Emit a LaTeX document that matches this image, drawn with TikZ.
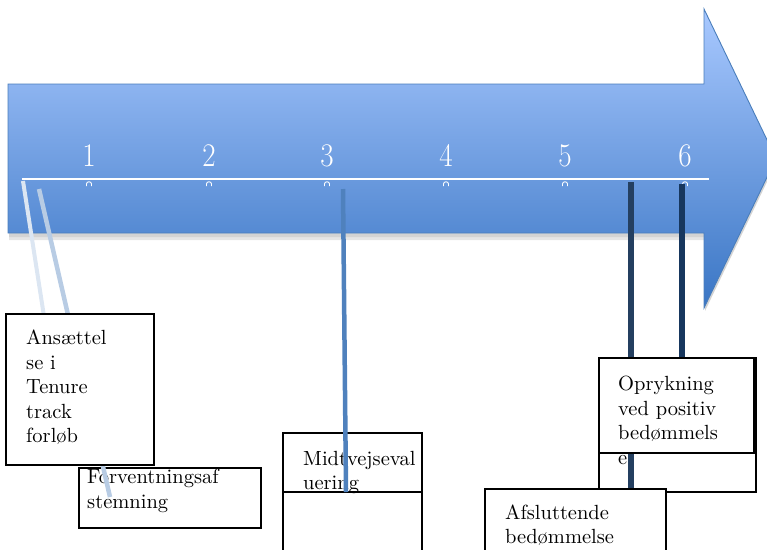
\documentclass[tikz,border=0pt]{standalone}
\usetikzlibrary{calc}
\DeclareFontFamily{TU}{lmrten}{}
\DeclareFontShape{TU}{lmrten}{m}{n}{<-> "[lmroman10-regular]:+tlig;"}{}
\definecolor{arrowtop}{HTML}{A9C9FF}
\definecolor{arrowbot}{HTML}{3975C4}
\definecolor{arrowline}{HTML}{4A7EBB}
\definecolor{conA}{HTML}{DCE6F2}
\definecolor{conB}{HTML}{B8CCE4}
\definecolor{conC}{HTML}{4F81BD}
\definecolor{conD}{HTML}{243F60}
\definecolor{conE}{HTML}{17375E}
\begin{document}
\begin{tikzpicture}[x=1pt,y=-1pt,
  boxstyle/.style={draw=black, line width=1.6pt, fill=white, inner sep=0pt, anchor=north west},
  txt/.style={align=left, anchor=north west, inner sep=0pt, font=\fontfamily{lmrten}\fontsize{20.5}{24.5}\selectfont},
  numstyle/.style={text=white, anchor=base, inner sep=0pt, font=\fontsize{33}{33}\selectfont},
  markstyle/.style={draw=white, line width=0.9pt},
  conn/.style={line width=#1}]
\useasboundingbox (0,0) rectangle (767,549);
\clip (0,0) rectangle (767,549);
% arrow shadow
\fill[black, opacity=0.10] (9,88) -- (705,88) -- (705,12) -- (777,161) -- (705,311) -- (705,240) -- (9,240) -- cycle;
\fill[black, opacity=0.08] (9,88) -- (705,88) -- (705,12) -- (777,161) -- (705,311) -- (705,237) -- (9,237) -- cycle;
% arrow
\shade[top color=arrowtop, bottom color=arrowbot] (8,84) -- (704,84) -- (704,9) -- (776,158.5) -- (704,308) -- (704,233) -- (8,233) -- cycle;
\draw[arrowline, line width=0.9pt] (8,84) -- (704,84) -- (704,9) -- (776,158.5) -- (704,308) -- (704,233) -- (8,233) -- cycle;
% timeline
\coordinate (tl0) at (22,179);
\coordinate (tl1) at (709,179);
\draw[white, line width=1.4pt] (tl0) -- (tl1);
\foreach \i/\x in {1/89,2/209,3/327,4/446,5/565,6/685}{
  \node[numstyle] (n\i) at (\x,166) {\scalebox{0.88}[1]{\i}};
  \draw[markstyle] (\x-2.5,186) -- (\x-2.5,184) .. controls (\x-2.5,181) and (\x+2.5,181) .. (\x+2.5,184) -- (\x+2.5,186);
}
% lower boxes (behind connectors)
\node[boxstyle, minimum width=182, minimum height=60] (forv) at (78,467) {};
\node[txt] (forvt) at (87,469) {Forventningsaf\\stemning};
\node[boxstyle, minimum width=139, minimum height=59] (midtA) at (282,432) {};
\node[boxstyle, minimum width=139, minimum height=70] (midtB) at (282,491) {};
\node[txt] (midtt) at (303,451) {Midtvejseval\\uering};
\node[boxstyle, minimum width=157, minimum height=134] (oprB) at (598,357) {};
% connectors
\coordinate (c1s) at (23,181);  \coordinate (c1e) at (57,400);
\coordinate (c2s) at (39,189);  \coordinate (c2e) at (110,497);
\coordinate (c3s) at (343,189); \coordinate (c3e) at (346,492);
\coordinate (c4s) at (631,182); \coordinate (c4e) at (631,490);
\coordinate (c5s) at (682,184); \coordinate (c5e) at (682,400);
\draw[conA, conn=4pt] (c1s) -- (c1e);
\draw[conB, conn=4.5pt] (c2s) -- (c2e);
\draw[conC, conn=4.5pt] (c3s) -- (c3e);
\draw[conD, conn=6pt] (c4s) -- (c4e);
\draw[conE, conn=5.5pt] (c5s) -- (c5e);
% upper boxes (in front of connectors)
\node[boxstyle, minimum width=148, minimum height=151] (ans) at (5,313) {};
\node[txt] (anst) at (26,330) {Ansættel\\se i\\Tenure\\track\\forløb};
\node[boxstyle, minimum width=155, minimum height=95] (oprA) at (598,357) {};
\node[txt] (oprt) at (618,376) {Oprykning\\ved positiv\\bedømmels\\e};
\node[boxstyle, line width=2.4pt, minimum width=181, minimum height=80] (afsl) at (484,488) {};
\node[txt, font=\fontfamily{lmrten}\fontsize{20.5}{23.5}\selectfont] (afslt) at (505,505) {Afsluttende\\bedømmelse};
\end{tikzpicture}
\end{document}
